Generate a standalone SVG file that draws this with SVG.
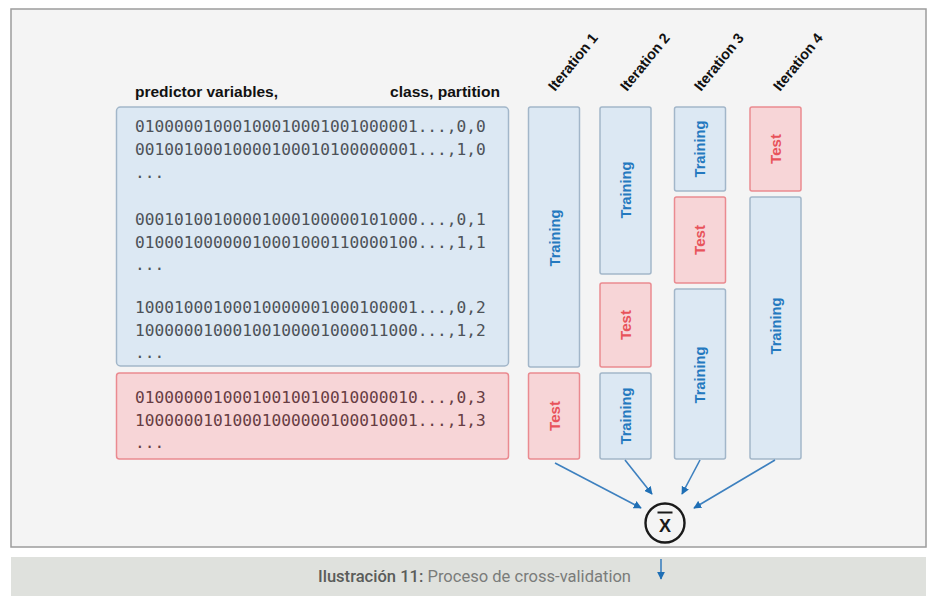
<svg xmlns="http://www.w3.org/2000/svg" width="933" height="598" viewBox="0 0 933 598">
<style>
.frame{fill:#f4f4f4;stroke:#9c9c9c;stroke-width:1.5}
.band{fill:#dfe1dd}
.hdr{font-family:"Liberation Sans",Arial,sans-serif;font-weight:bold;font-size:14px;fill:#111}
.mono{font-family:"DejaVu Sans Mono",monospace;font-size:16.2px;fill:#4d5258}
.monor{font-family:"DejaVu Sans Mono",monospace;font-size:16.2px;fill:#673d43}
.blue{fill:#dce8f3;stroke:#a2b6c9;stroke-width:1.5}
.pink{fill:#f7d5d7;stroke:#ea8a90;stroke-width:1.5}
.tr{font-family:"Liberation Sans",Arial,sans-serif;font-weight:bold;font-size:14px;fill:#2479bf;text-anchor:middle;dominant-baseline:central}
.te{font-family:"Liberation Sans",Arial,sans-serif;font-weight:bold;font-size:14px;fill:#e8535b;text-anchor:middle;dominant-baseline:central}
.it{font-family:"Liberation Sans",Arial,sans-serif;font-weight:bold;font-size:14.5px;fill:#111}
.conn{stroke:#3d80bf;stroke-width:1.6;fill:none;marker-end:url(#ah)}
.cap{font-family:"Roboto","Liberation Sans",sans-serif;font-size:17px}
</style>
<defs>
<marker id="ah" viewBox="0 0 10 10" refX="9" refY="5" markerWidth="5" markerHeight="5" orient="auto" markerUnits="strokeWidth">
<path d="M0,0 L10,5 L0,10 z" fill="#1f6fb5"/>
</marker>
</defs>
<rect x="0" y="0" width="933" height="598" fill="#ffffff"/>
<rect class="frame" x="11" y="9" width="915" height="538"/>
<rect class="band" x="11" y="557" width="915" height="39"/>

<g id="header">
<text class="hdr" x="135" y="97" textLength="143" lengthAdjust="spacingAndGlyphs">predictor variables,</text>
<text class="hdr" x="390" y="97" textLength="110" lengthAdjust="spacingAndGlyphs">class, partition</text>
</g>

<g id="data-blue">
<rect class="blue" x="116.5" y="107" width="392" height="259" rx="4"/>
<text class="mono" x="135" y="132">01000001000100010001001000001...,0,0</text>
<text class="mono" x="135" y="155">00100100010000100010100000001...,1,0</text>
<text class="mono" x="135" y="178">...</text>
<text class="mono" x="135" y="225">00010100100001000100000101000...,0,1</text>
<text class="mono" x="135" y="248">01000100000010001000110000100...,1,1</text>
<text class="mono" x="135" y="270">...</text>
<text class="mono" x="135" y="313">10001000100010000001000100001...,0,2</text>
<text class="mono" x="135" y="336">10000001000100100001000011000...,1,2</text>
<text class="mono" x="135" y="358">...</text>
</g>

<g id="data-pink">
<rect class="pink" x="116.5" y="373" width="392" height="86" rx="3"/>
<text class="monor" x="135" y="403">01000000100010010010010000010...,0,3</text>
<text class="monor" x="135" y="426">10000001010001000000100010001...,1,3</text>
<text class="monor" x="135" y="448">...</text>
</g>

<g id="iteration1">
<text class="it" transform="translate(555,92) rotate(-51)">Iteration 1</text>
<rect class="blue" x="528.5" y="107" width="51" height="260" rx="2"/>
<text class="tr" transform="translate(555,238) rotate(-90)" textLength="57" lengthAdjust="spacingAndGlyphs">Training</text>
<rect class="pink" x="528.5" y="373" width="51" height="86" rx="2"/>
<text class="te" transform="translate(555,416) rotate(-90)" textLength="30" lengthAdjust="spacingAndGlyphs">Test</text>
</g>

<g id="iteration2">
<text class="it" transform="translate(627,92) rotate(-51)">Iteration 2</text>
<rect class="blue" x="600" y="107" width="51" height="167" rx="2"/>
<text class="tr" transform="translate(626,190) rotate(-90)" textLength="57" lengthAdjust="spacingAndGlyphs">Training</text>
<rect class="pink" x="600" y="283" width="51" height="84" rx="2"/>
<text class="te" transform="translate(626,325) rotate(-90)" textLength="30" lengthAdjust="spacingAndGlyphs">Test</text>
<rect class="blue" x="600" y="373" width="51" height="86" rx="2"/>
<text class="tr" transform="translate(626,416) rotate(-90)" textLength="57" lengthAdjust="spacingAndGlyphs">Training</text>
</g>

<g id="iteration3">
<text class="it" transform="translate(701,92) rotate(-51)">Iteration 3</text>
<rect class="blue" x="674.5" y="107" width="51" height="84" rx="2"/>
<text class="tr" transform="translate(700,149) rotate(-90)" textLength="57" lengthAdjust="spacingAndGlyphs">Training</text>
<rect class="pink" x="674.5" y="197" width="51" height="86" rx="2"/>
<text class="te" transform="translate(700,240) rotate(-90)" textLength="30" lengthAdjust="spacingAndGlyphs">Test</text>
<rect class="blue" x="674.5" y="289" width="51" height="170" rx="2"/>
<text class="tr" transform="translate(700,375) rotate(-90)" textLength="57" lengthAdjust="spacingAndGlyphs">Training</text>
</g>

<g id="iteration4">
<text class="it" transform="translate(780,92) rotate(-51)">Iteration 4</text>
<rect class="pink" x="750" y="107" width="51" height="84" rx="2"/>
<text class="te" transform="translate(776,149) rotate(-90)" textLength="30" lengthAdjust="spacingAndGlyphs">Test</text>
<rect class="blue" x="750" y="197" width="51" height="262" rx="2"/>
<text class="tr" transform="translate(776,326) rotate(-90)" textLength="57" lengthAdjust="spacingAndGlyphs">Training</text>
</g>

<g id="mean">
<circle cx="665" cy="523" r="19.5" fill="#f4f4f4" stroke="#1a1a1a" stroke-width="2.4"/>
<line x1="657.5" y1="512.5" x2="672.5" y2="512.5" stroke="#1a1a1a" stroke-width="2"/>
<text x="665" y="532" text-anchor="middle" font-family="Liberation Sans,Arial,sans-serif" font-weight="bold" font-size="18" fill="#1a1a1a">X</text>
</g>

<g id="connectors">
<line class="conn" x1="555" y1="463" x2="641" y2="508"/>
<line class="conn" x1="625" y1="460" x2="652" y2="494"/>
<line class="conn" x1="700" y1="460" x2="682" y2="494"/>
<line class="conn" x1="775" y1="460" x2="694" y2="508"/>
<line class="conn" x1="661" y1="559" x2="661" y2="579"/>
</g>

<g id="caption">
<text class="cap" x="318" y="582" textLength="313" lengthAdjust="spacingAndGlyphs"><tspan fill="#5a5c5a" font-weight="500">Ilustración 11:</tspan><tspan fill="#7a7c7a"> Proceso de cross-validation</tspan></text>
</g>
</svg>
